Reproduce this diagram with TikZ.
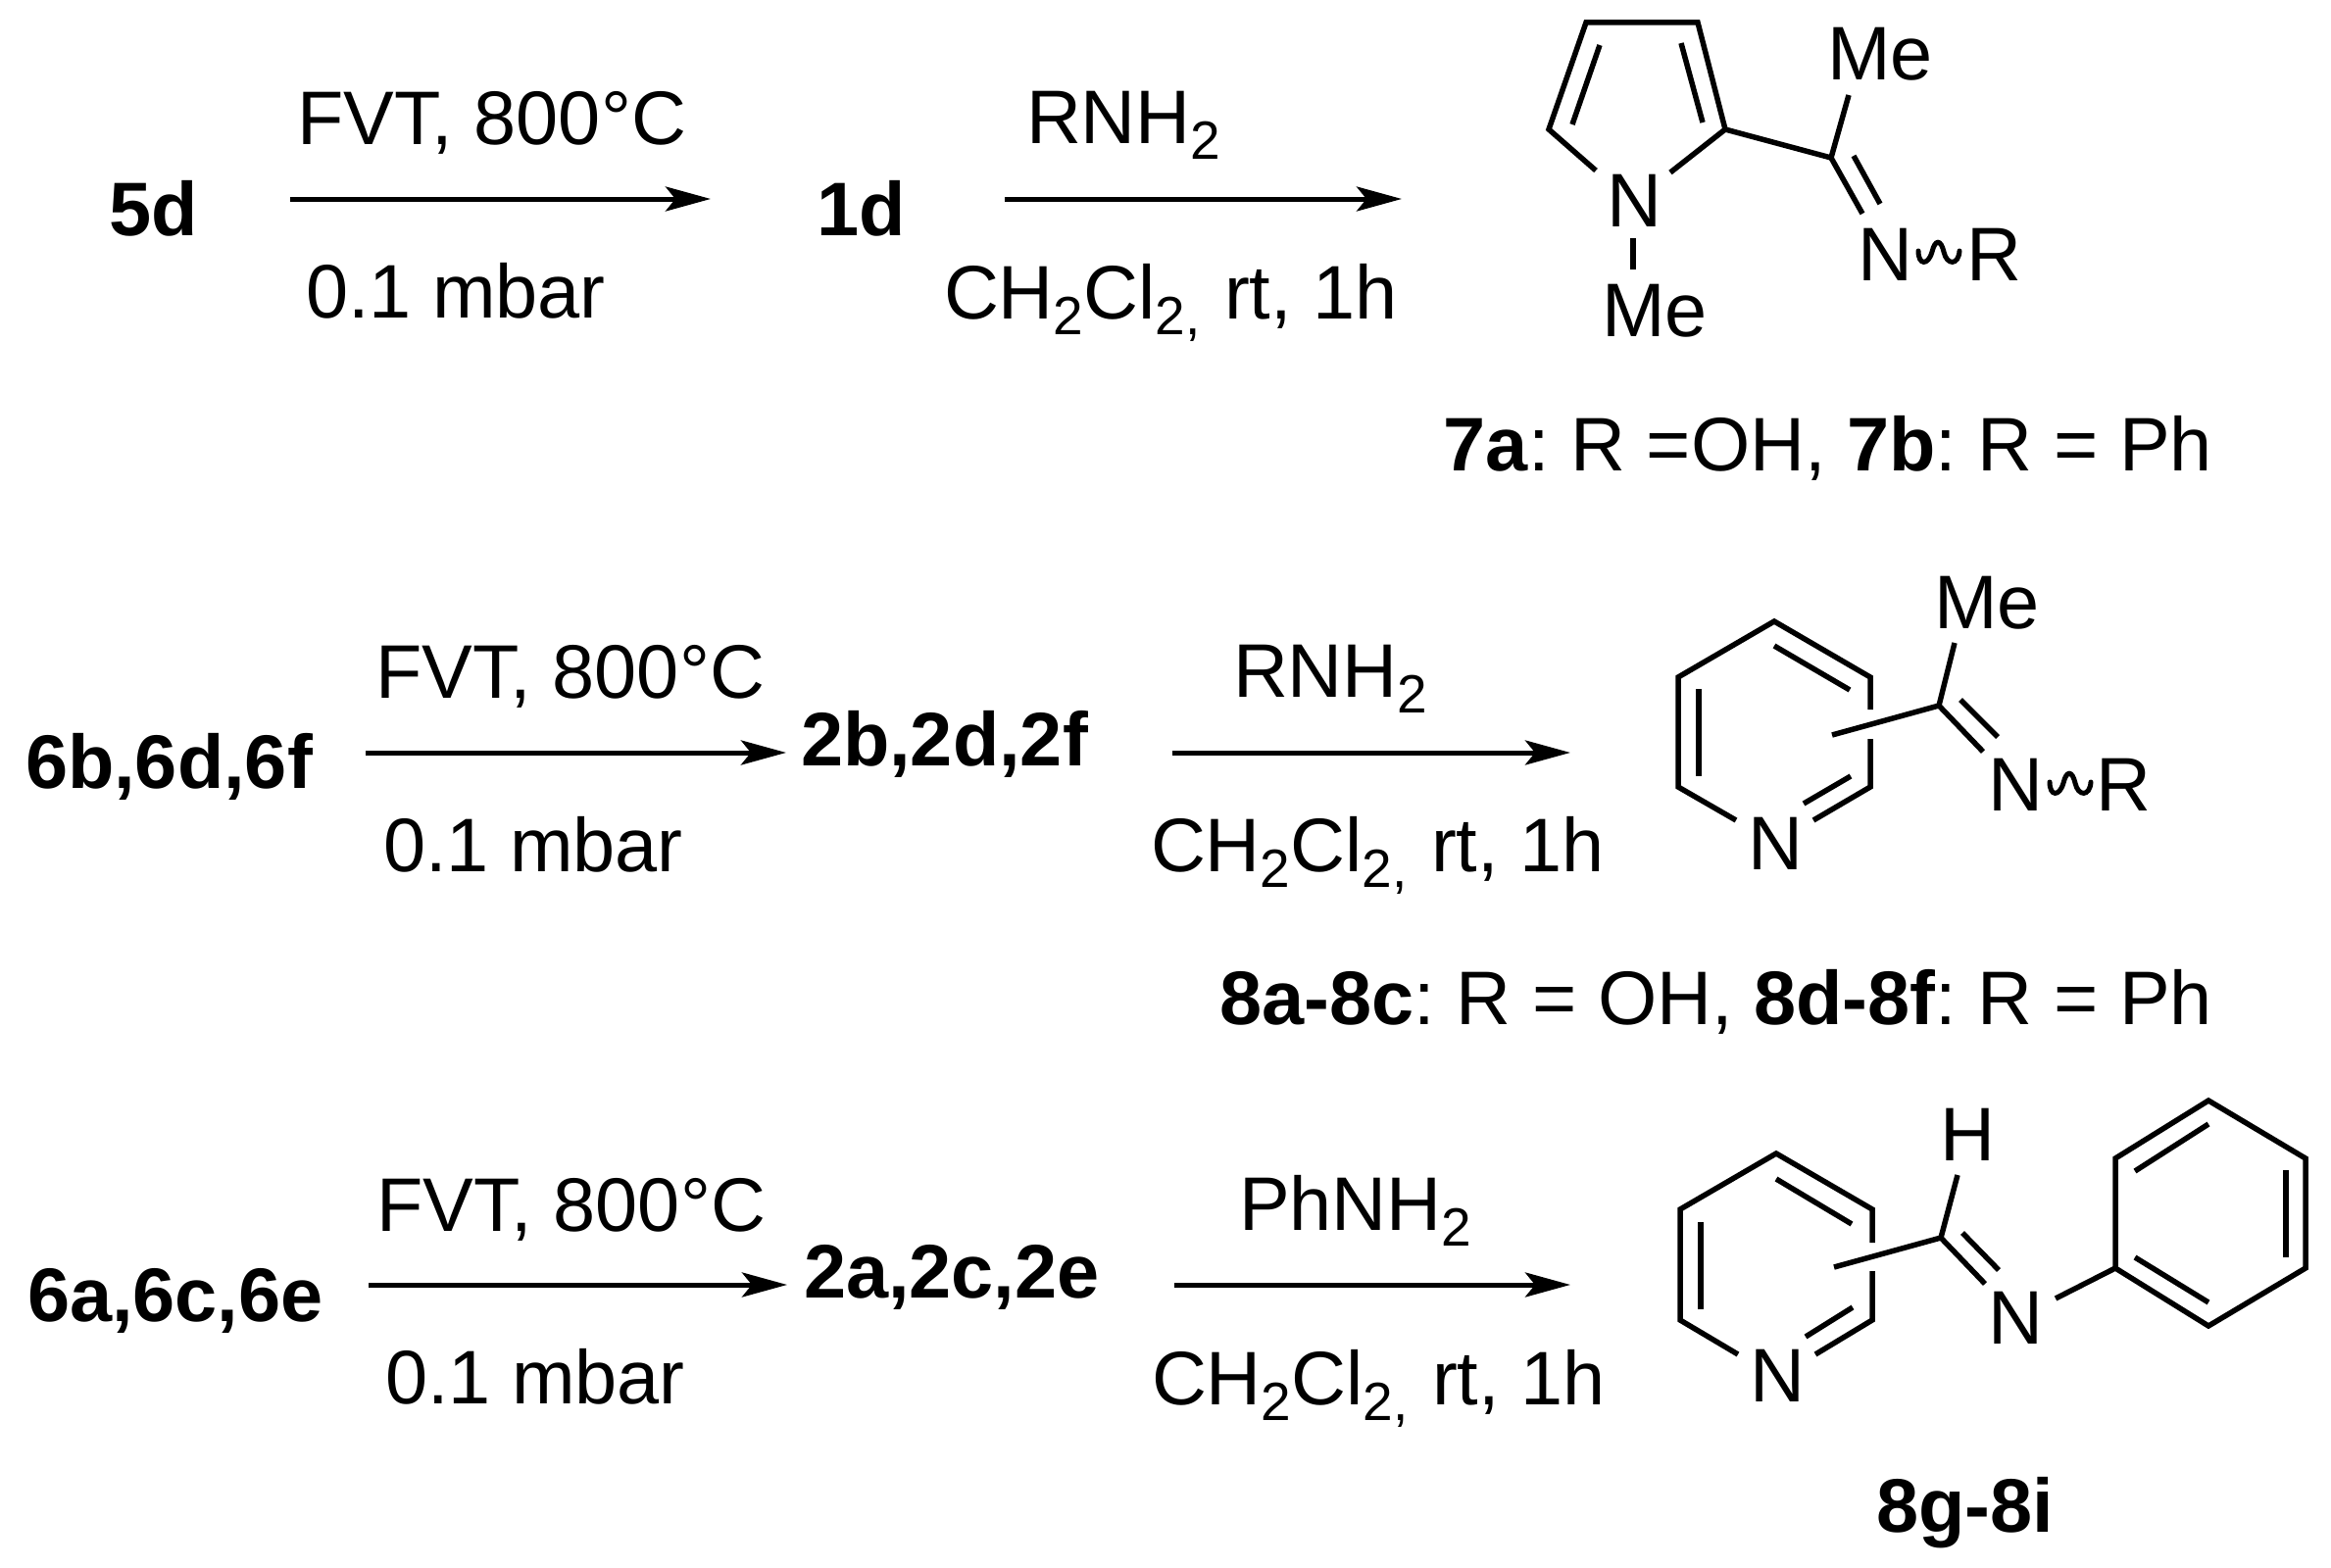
\documentclass[tikz,border=0pt]{standalone}
\usepackage{fontspec}
\setmainfont{Liberation Sans}
\frenchspacing
\usetikzlibrary{arrows.meta}
\tikzset{
  txt/.style={anchor=base west,inner sep=0pt,outer sep=0pt,font=\fontsize{77.5}{90}\selectfont},
  txe/.style={txt,anchor=base east},
  cmp/.style={txt,font=\fontsize{77.5}{90}\selectfont\bfseries},
  atom/.style={txt},
  bond/.style={line width=5.5pt,line cap=butt,line join=miter,black},
  rxn/.style={line width=5pt,black,-{Stealth[length=46pt,width=25pt,inset=10pt]}},
  wavy/.style={line width=5pt,line cap=round,black}
}
\newcommand{\subs}[1]{\raisebox{-16pt}{\fontsize{55}{60}\selectfont #1}}
\newcommand{\wv}[1]{\begin{scope}[shift={(#1)}]\draw[wavy] (1,-2) .. controls (1,13) and (11,13) .. (15,-1) .. controls (18,-14) and (24,-14) .. (27,-1) .. controls (30,13) and (42,13) .. (43,-2);\end{scope}}
\begin{document}
\begin{tikzpicture}[x=1pt,y=-1pt]
\useasboundingbox (0,0) rectangle (2378,1600);
\fill[white] (0,0) rectangle (2378,1600);

% ---------- row 1
\node[cmp] (c5d) at (111,240) {5d};
\node[txt] (r1a) at (303,148) {FVT, 800°C};
\node[txt] (r1b) at (312,324) {0.1 mbar};
\coordinate (a1s) at (296,203); \coordinate (a1e) at (725,203);
\draw[rxn] (a1s) -- (a1e);
\node[cmp] (c1d) at (833,240) {1d};
\node[txt] (r1c) at (1047,147) {RNH\subs{2}};
\node[txt] (r1d) at (963,325) {CH\subs{2}Cl\subs{2,}\hspace{3pt} rt, 1h};
\coordinate (a2s) at (1025,203); \coordinate (a2e) at (1430,203);
\draw[rxn] (a2s) -- (a2e);

\coordinate (p1) at (1618,23); \coordinate (p2) at (1732,23);
\coordinate (p3) at (1760,132); \coordinate (p4) at (1580,132);
\coordinate (pn1) at (1628,174); \coordinate (pn2) at (1704,176);
\coordinate (pi1) at (1632,46); \coordinate (pi2) at (1604,127);
\coordinate (pi3) at (1715,44); \coordinate (pi4) at (1737,125);
\coordinate (pm1) at (1666,243); \coordinate (pm2) at (1666,275);
\coordinate (pc) at (1868,161); \coordinate (pcm) at (1886,97);
\coordinate (pcn) at (1900,218); \coordinate (pi5) at (1891,159); \coordinate (pi6) at (1918,208);
\draw[bond] (pn1) -- (p4) -- (p1) -- (p2) -- (p3) -- (pn2);
\draw[bond] (pi1) -- (pi2);
\draw[bond] (pi3) -- (pi4);
\draw[bond] (pm1) -- (pm2);
\draw[bond] (p3) -- (pc);
\draw[bond] (pcm) -- (pc) -- (pcn);
\draw[bond] (pi5) -- (pi6);
\node[atom] (pN) at (1639,231) {N};
\node[atom] (pMe) at (1634,343) {Me};
\node[atom] (pMeT) at (1864,82) {Me};
\node[atom] (pN2) at (1895,286) {N};
\coordinate (pw) at (1956,258); \wv{pw}
\node[atom] (pR) at (2006,286) {R};
\node[txe] (l7) at (2257,480) {\textbf{7a}: R =OH, \textbf{7b}: R = Ph};

% ---------- row 2
\node[cmp] (c6b) at (26,804) {6b,6d,6f};
\node[txt] (r2a) at (383,712) {FVT, 800°C};
\node[txt] (r2b) at (391,889) {0.1 mbar};
\coordinate (b1s) at (373,768); \coordinate (b1e) at (802,768);
\draw[rxn] (b1s) -- (b1e);
\node[cmp] (c2b) at (817,781) {2b,2d,2f};
\node[txt] (r2c) at (1258,711) {RNH\subs{2}};
\node[txt] (r2d) at (1174,889) {CH\subs{2}Cl\subs{2,}\hspace{3pt} rt, 1h};
\coordinate (b2s) at (1196,768); \coordinate (b2e) at (1602,768);
\draw[rxn] (b2s) -- (b2e);

\coordinate (q1) at (1810,634); \coordinate (q2) at (1908,691);
\coordinate (q3) at (1908,724); \coordinate (q4) at (1908,754);
\coordinate (q5) at (1908,803); \coordinate (q6) at (1850,837);
\coordinate (q7) at (1771,837); \coordinate (q8) at (1712,803);
\coordinate (q9) at (1712,691);
\coordinate (qi1) at (1810,659); \coordinate (qi2) at (1887,704);
\coordinate (qi3) at (1733,703); \coordinate (qi4) at (1733,792);
\coordinate (qi5) at (1888,792); \coordinate (qi6) at (1840,820);
\coordinate (qs) at (1869,750); \coordinate (qc) at (1978,720);
\coordinate (qm) at (1994,656); \coordinate (qn) at (2023,767);
\coordinate (qi7) at (2000,714); \coordinate (qi8) at (2038,752);
\draw[bond] (q3) -- (q2) -- (q1) -- (q9) -- (q8) -- (q7);
\draw[bond] (q4) -- (q5) -- (q6);
\draw[bond] (qi1) -- (qi2);
\draw[bond] (qi3) -- (qi4);
\draw[bond] (qi5) -- (qi6);
\draw[bond] (qs) -- (qc);
\draw[bond] (qm) -- (qc) -- (qn);
\draw[bond] (qi7) -- (qi8);
\node[atom] (qMe) at (1973,641) {Me};
\node[atom] (qN) at (1783,887) {N};
\node[atom] (qN2) at (2028,827) {N};
\coordinate (qw) at (2090,800); \wv{qw}
\node[atom] (qR) at (2138,827) {R};
\node[txe] (l8) at (2257,1045) {\textbf{8a-8c}: R = OH, \textbf{8d-8f}: R = Ph};

% ---------- row 3
\node[cmp] (c6a) at (28,1348) {6a,6c,6e};
\node[txt] (r3a) at (384,1256) {FVT, 800°C};
\node[txt] (r3b) at (393,1432) {0.1 mbar};
\coordinate (d1s) at (376,1311); \coordinate (d1e) at (803,1311);
\draw[rxn] (d1s) -- (d1e);
\node[cmp] (c2a) at (820,1324) {2a,2c,2e};
\node[txt] (r3c) at (1264,1255) {PhNH\subs{2}};
\node[txt] (r3d) at (1175,1433) {CH\subs{2}Cl\subs{2,}\hspace{3pt} rt, 1h};
\coordinate (d2s) at (1198,1311); \coordinate (d2e) at (1602,1311);
\draw[rxn] (d2s) -- (d2e);

\coordinate (s1) at (1812,1177); \coordinate (s2) at (1910,1234);
\coordinate (s3) at (1910,1268); \coordinate (s4) at (1910,1297);
\coordinate (s5) at (1910,1347); \coordinate (s6) at (1852,1382);
\coordinate (s7) at (1773,1382); \coordinate (s8) at (1714,1347);
\coordinate (s9) at (1714,1234);
\coordinate (si1) at (1812,1203); \coordinate (si2) at (1889,1249);
\coordinate (si3) at (1735,1247); \coordinate (si4) at (1735,1336);
\coordinate (si5) at (1890,1334); \coordinate (si6) at (1842,1364);
\coordinate (ss) at (1871,1293); \coordinate (sc) at (1980,1263);
\coordinate (sh) at (1997,1199); \coordinate (sn) at (2025,1310);
\coordinate (si7) at (2002,1258); \coordinate (si8) at (2039,1296);
\coordinate (sb) at (2097,1325);
\coordinate (f1) at (2158,1294); \coordinate (f2) at (2158,1182);
\coordinate (f3) at (2253,1123); \coordinate (f4) at (2352,1182);
\coordinate (f5) at (2352,1294); \coordinate (f6) at (2253,1353);
\coordinate (fi1) at (2178,1195); \coordinate (fi2) at (2253,1147);
\coordinate (fi3) at (2332,1194); \coordinate (fi4) at (2332,1283);
\coordinate (fi5) at (2178,1283); \coordinate (fi6) at (2253,1329);
\draw[bond] (s3) -- (s2) -- (s1) -- (s9) -- (s8) -- (s7);
\draw[bond] (s4) -- (s5) -- (s6);
\draw[bond] (si1) -- (si2);
\draw[bond] (si3) -- (si4);
\draw[bond] (si5) -- (si6);
\draw[bond] (ss) -- (sc);
\draw[bond] (sh) -- (sc) -- (sn);
\draw[bond] (si7) -- (si8);
\draw[bond] (sb) -- (f1);
\draw[bond] (f1) -- (f2) -- (f3) -- (f4) -- (f5) -- (f6) -- cycle;
\draw[bond] (fi1) -- (fi2);
\draw[bond] (fi3) -- (fi4);
\draw[bond] (fi5) -- (fi6);
\node[atom] (sH) at (1979,1184) {H};
\node[atom] (sN) at (1785,1430) {N};
\node[atom] (sN2) at (2028,1371) {N};
\node[cmp] (l8g) at (1914,1563) {8g-8i};
\end{tikzpicture}
\end{document}
